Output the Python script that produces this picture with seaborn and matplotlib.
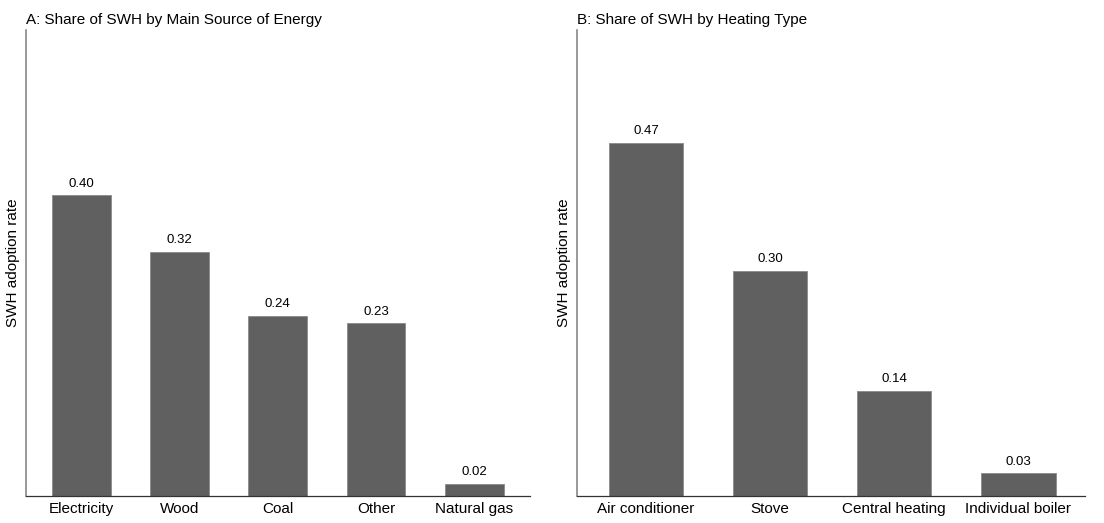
import matplotlib
matplotlib.use('Agg')
import matplotlib.pyplot as plt
import seaborn as sns
import pandas as pd

# panel A: main source of energy
energy = ['Electricity', 'Wood', 'Coal', 'Other', 'Natural gas']
energy_rate = [0.40, 0.325, 0.24, 0.23, 0.016]
energy_lbl = ['0.40', '0.32', '0.24', '0.23', '0.02']

# panel B: heating type
heating = ['Air conditioner', 'Stove', 'Central heating', 'Individual boiler']
heating_rate = [0.47, 0.30, 0.14, 0.03]
heating_lbl = ['0.47', '0.30', '0.14', '0.03']

sns.set_style('white')
plt.rcParams['font.family'] = ['Liberation Sans', 'DejaVu Sans']
plt.rcParams['text.color'] = 'black'
plt.rcParams['axes.labelcolor'] = 'black'
plt.rcParams['xtick.color'] = 'black'

fig = plt.figure(figsize=(11.04, 5.23), dpi=100)
axA = fig.add_axes([0.0236, 0.0516, 0.4565, 0.891])
axB = fig.add_axes([0.5226, 0.0516, 0.46, 0.891])

bar_col = '#606060'

def panel(ax, cats, vals, lbls, title, xlim):
    df = pd.DataFrame({'cat': cats, 'val': vals})
    sns.barplot(data=df, x='cat', y='val', color=bar_col, saturation=1,
                width=0.6, edgecolor='#8a8a8a', linewidth=0.6, ax=ax)
    ax.bar_label(ax.containers[0], labels=lbls, padding=4, fontsize=9.5)
    ax.set_ylim(0, 0.62)
    ax.set_xlim(*xlim)
    ax.set_yticks([])
    ax.set_xlabel('')
    ax.set_ylabel('SWH adoption rate', fontsize=11)
    ax.set_title(title, loc='left', fontsize=11, pad=4)
    ax.tick_params(axis='x', labelsize=11, length=0, pad=4)
    for s in ['top', 'right']:
        ax.spines[s].set_visible(False)
    ax.spines['left'].set_color('#888888')
    ax.spines['left'].set_linewidth(1.2)
    ax.spines['bottom'].set_color('#333333')
    ax.spines['bottom'].set_linewidth(0.9)

panel(axA, energy, energy_rate, energy_lbl, 'A: Share of SWH by Main Source of Energy', (-0.566, 4.57))
panel(axB, heating, heating_rate, heating_lbl, 'B: Share of SWH by Heating Type', (-0.556, 3.536))

fig.savefig('out.png', dpi=100)
